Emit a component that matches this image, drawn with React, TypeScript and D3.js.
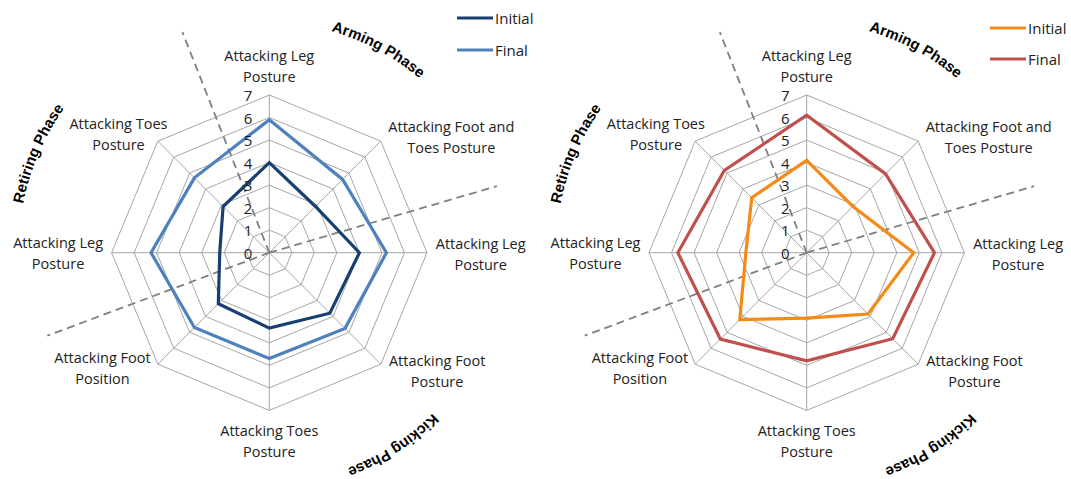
import React from "react";
import * as d3 from "d3";

const axisLabels: string[][] = [
  ["Attacking Leg", "Posture"],
  ["Attacking Foot and", "Toes Posture"],
  ["Attacking Leg", "Posture"],
  ["Attacking Foot", "Posture"],
  ["Attacking Toes", "Posture"],
  ["Attacking Foot", "Position"],
  ["Attacking Leg", "Posture"],
  ["Attacking Toes", "Posture"],
];
const tickValues = [0, 1, 2, 3, 4, 5, 6, 7];
const seriesNames = ["Initial", "Final"];

const leftInitial = [4.0, 2.9, 4.0, 3.8, 3.35, 3.2, 2.2, 2.9];
const leftFinal = [5.9, 4.6, 5.2, 4.75, 4.7, 4.7, 5.25, 4.7];
const rightInitial = [4.1, 2.9, 4.75, 3.85, 2.9, 4.2, 2.7, 3.45];
const rightFinal = [6.1, 4.95, 5.67, 5.4, 4.8, 5.42, 5.72, 5.17];

const phaseNames = ["Arming Phase", "Kicking Phase", "Retiring Phase"];

// layout
const W = 1071;
const H = 479;
const R = 157.7;
const labelOffsets: [number, number][] = [
  [0, -29.5],
  [70.5, -4.5],
  [53.7, 1],
  [56.3, 6.3],
  [0, 30.5],
  [-55.3, 3.8],
  [-53.5, 0.3],
  [-39.3, -7.6],
];
const dividerAngles = [338.5, 73.7, 249.5];
const phaseArcs = [
  { angle: 28.2, r: 230 },
  { angle: 147.3, r: 229 },
  { angle: 293.2, r: 251 },
];

type ChartProps = {
  cx: number;
  cy: number;
  initial: number[];
  final: number[];
  colors: [string, string];
  legendX: number;
  legendY: [number, number];
  id: string;
};

const FONT = "'Open Sans', 'Liberation Sans', sans-serif";
const BOLD = "'Liberation Sans', Arial, sans-serif";

function Radar({ cx, cy, initial, final, colors, legendX, legendY, id }: ChartProps) {
  const n = axisLabels.length;
  const r = d3.scaleLinear().domain([0, 7]).range([0, R]);
  const ang = (i: number) => (i * 2 * Math.PI) / n;
  const ringLine = d3
    .lineRadial<number>()
    .angle((_, i) => ang(i))
    .radius((d) => r(d))
    .curve(d3.curveLinearClosed);
  const pt = (a: number, rad: number) => [cx + rad * Math.sin(a), cy - rad * Math.cos(a)];
  const deg = (d: number) => (d * Math.PI) / 180;

  const arcPath = (angleDeg: number, rad: number, span = 20) => {
    const a0 = deg(angleDeg - span);
    const a1 = deg(angleDeg + span);
    const [x0, y0] = pt(a0, rad);
    const [x1, y1] = pt(a1, rad);
    return `M${x0},${y0} A${rad},${rad} 0 0 1 ${x1},${y1}`;
  };

  return (
    <g>
      <defs>
        {phaseArcs.map((p, i) => (
          <path key={i} id={`${id}-arc-${i}`} d={arcPath(p.angle, p.r)} fill="none" />
        ))}
      </defs>
      <g transform={`translate(${cx},${cy})`}>
        {tickValues.slice(1).map((t) => (
          <path
            key={t}
            d={ringLine(d3.range(n).map(() => t)) || ""}
            fill="none"
            stroke="#a6a6a6"
            strokeWidth={1}
          />
        ))}
        {d3.range(n).map((i) => {
          const [x, y] = [r(7) * Math.sin(ang(i)), -r(7) * Math.cos(ang(i))];
          return <line key={i} x1={0} y1={0} x2={x} y2={y} stroke="#a6a6a6" strokeWidth={1} />;
        })}
      </g>
      {dividerAngles.map((a, i) => {
        const [x, y] = pt(deg(a), 237);
        return (
          <line
            key={i}
            x1={cx}
            y1={cy}
            x2={x}
            y2={y}
            stroke="#7f7f7f"
            strokeWidth={1.8}
            strokeDasharray="8,5"
          />
        );
      })}
      <g transform={`translate(${cx},${cy})`}>
        <path d={ringLine(initial) || ""} fill="none" stroke={colors[0]} strokeWidth={3.2} strokeLinejoin="miter" />
        <path d={ringLine(final) || ""} fill="none" stroke={colors[1]} strokeWidth={3.2} strokeLinejoin="miter" />
      </g>
      {tickValues.map((t) => (
        <text
          key={t}
          x={cx - 17}
          y={cy - r(t)}
          textAnchor="end"
          dominantBaseline="central"
          fontFamily={FONT}
          fontSize={15}
          fill="#222"
        >
          {t}
        </text>
      ))}
      {axisLabels.map((lines, i) => {
        const [vx, vy] = pt(ang(i), r(7));
        const x = vx + labelOffsets[i][0];
        const y = vy + labelOffsets[i][1];
        return (
          <text key={i} textAnchor="middle" fontFamily={FONT} fontSize={14.5} fill="#222">
            <tspan x={x} y={y - 10.5} dominantBaseline="central">
              {lines[0]}
            </tspan>
            <tspan x={x} y={y + 10.5} dominantBaseline="central">
              {lines[1]}
            </tspan>
          </text>
        );
      })}
      {phaseNames.map((p, i) => (
        <text key={i} fontFamily={BOLD} fontWeight="bold" fontSize={15} fill="#000">
          <textPath href={`#${id}-arc-${i}`} startOffset="50%" textAnchor="middle">
            {p}
          </textPath>
        </text>
      ))}
      {seriesNames.map((s, i) => (
        <g key={s}>
          <line
            x1={legendX}
            x2={legendX + 36}
            y1={legendY[i]}
            y2={legendY[i]}
            stroke={colors[i]}
            strokeWidth={3.2}
          />
          <text
            x={legendX + 38}
            y={legendY[i]}
            dominantBaseline="central"
            fontFamily={FONT}
            fontSize={15}
            fill="#222"
          >
            {s}
          </text>
        </g>
      ))}
    </g>
  );
}

export default function App() {
  return (
    <svg
      width={W}
      height={H}
      style={{ position: "absolute", left: 0, top: 0, background: "#fff" }}
    >
      <rect width={W} height={H} fill="#fff" />
      <Radar
        id="l"
        cx={269.3}
        cy={252.7}
        initial={leftInitial}
        final={leftFinal}
        colors={["#17406f", "#4f81bd"]}
        legendX={457}
        legendY={[18, 50]}
      />
      <Radar
        id="r"
        cx={806.7}
        cy={252.7}
        initial={rightInitial}
        final={rightFinal}
        colors={["#f58a17", "#c0504d"]}
        legendX={990}
        legendY={[28, 59]}
      />
    </svg>
  );
}
